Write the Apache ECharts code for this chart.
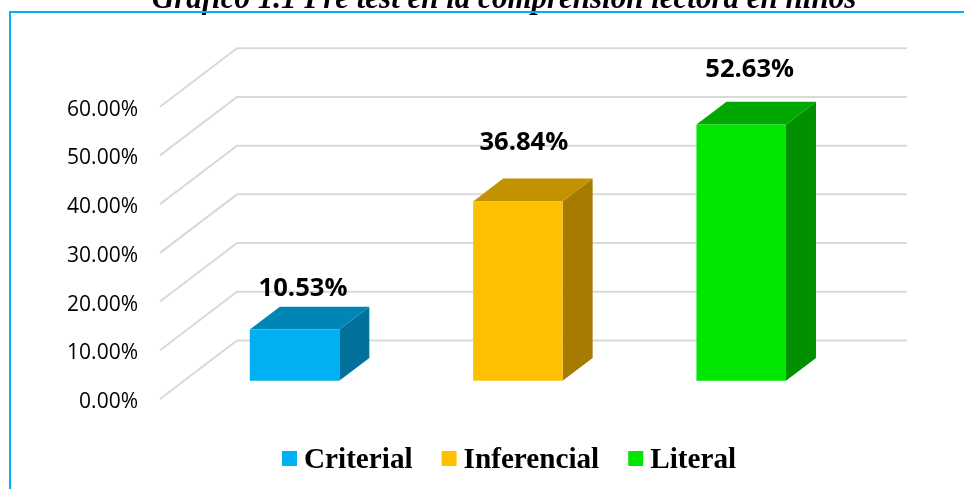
<!DOCTYPE html>
<html>
<head>
<meta charset="utf-8">
<style>
  html, body { margin: 0; padding: 0; background: #fff; overflow: hidden; }
  #chart { width: 964px; height: 489px; }
</style>
<script src="https://cdn.jsdelivr.net/npm/echarts@6/dist/echarts.min.js"></script>
</head>
<body>
<div id="chart"></div>
<script>
const titleText = 'Gráfico 1.1 Pre test en la comprensión lectora en niños'
const categories = ['Criterial', 'Inferencial', 'Literal']
const values = [10.53, 36.84, 52.63]
const colors = ['#00b0f0', '#ffc000', '#00e600']
const topColors = ['#0086b6', '#c29200', '#00a800']
const sideColors = ['#00729c', '#a67c00', '#009000']
const yTicks = [0, 10, 20, 30, 40, 50, 60]

// floor depth of the fake 3d box, in px
const depthX = 77
const depthY = 58.5
// bars take the middle of the floor depth
const barNear = 0.31
const barFar = 0.70
const barWidth = 89.5
const barShift = -1
// labels in the picture are not centred on the bars
const labelNudge = [[8.5, -41], [6, -58.5], [8.5, -54.5]]

const renderWall = (params, api) => {
  const rect = params.coordSys
  const y = api.coord([0, api.value(0)])[1]
  const x0 = rect.x
  const x1 = rect.x + depthX
  const x2 = rect.x + rect.width + depthX
  return {
    type: 'polyline',
    shape: { points: [[x0, y], [x1, y - depthY], [x2, y - depthY]] },
    style: { fill: 'none', stroke: '#d9d9d9', lineWidth: 2 },
    silent: true
  }
}

const renderBar = (index) => (params, api) => {
  const center = api.coord([index, 0])[0]
  const base = api.coord([index, 0])[1]
  const top = api.coord([index, api.value(0)])[1]
  const nearX = depthX * barNear
  const nearY = depthY * barNear
  const dx = depthX * (barFar - barNear)
  const dy = depthY * (barFar - barNear)
  const l = center + nearX - barWidth / 2 + barShift
  const r = l + barWidth
  const b = base - nearY
  const t = top - nearY
  return {
    type: 'group',
    children: [
      { type: 'polygon', shape: { points: [[r, b], [r + dx, b - dy], [r + dx, t - dy], [r, t]] }, style: { fill: sideColors[index] } },
      { type: 'polygon', shape: { points: [[l, t], [r, t], [r + dx, t - dy], [l + dx, t - dy]] }, style: { fill: topColors[index] } },
      { type: 'rect', shape: { x: l, y: t, width: barWidth, height: b - t }, style: { fill: colors[index] } },
      {
        type: 'text',
        x: (l + r) / 2 + labelNudge[index][0],
        y: t + labelNudge[index][1],
        style: {
          text: values[index].toFixed(2) + '%',
          font: 'bold 25.6px "Open Sans", sans-serif',
          fill: '#000',
          align: 'center',
          verticalAlign: 'middle'
        }
      }
    ]
  }
}

const chart = echarts.init(document.getElementById('chart'), null, { renderer: 'canvas' })

chart.setOption({
  animation: false,
  backgroundColor: '#fff',
  title: {
    text: titleText,
    left: 499,
    top: -21,
    textAlign: 'center',
    textStyle: { fontFamily: 'Liberation Serif', fontStyle: 'italic', fontWeight: 'bold', fontSize: 31, color: '#000' }
  },
  legend: {
    left: 282,
    top: 446,
    padding: 0,
    itemWidth: 15,
    itemHeight: 15,
    itemGap: 29,
    icon: 'rect',
    data: categories,
    formatter: '{t|{name}}',
    textStyle: {
      rich: {
        t: { fontFamily: 'Liberation Serif', fontWeight: 'bold', fontSize: 29.2, color: '#000', padding: [4, 0, 0, 2] }
      }
    }
  },
  grid: { left: 160, top: 106.7, width: 670, height: 292.3 },
  xAxis: {
    type: 'category',
    data: categories,
    axisLine: { show: false },
    axisTick: { show: false },
    axisLabel: { show: false }
  },
  yAxis: {
    type: 'value',
    min: 0,
    max: 60,
    interval: 10,
    axisLine: { show: false },
    axisTick: { show: false },
    splitLine: { show: false },
    axisLabel: {
      margin: 22,
      formatter: (v) => '{v|' + v.toFixed(2) + '%}',
      rich: {
        v: { fontFamily: 'Open Sans', fontSize: 21, color: '#000', padding: [6, 0, 0, 0] }
      }
    }
  },
  series: [
    {
      type: 'custom',
      name: 'wall',
      silent: true,
      z: 1,
      data: yTicks,
      encode: { y: 0 },
      renderItem: renderWall
    },
    ...categories.map((name, i) => ({
      type: 'custom',
      name,
      z: 2,
      itemStyle: { color: colors[i] },
      data: [values[i]],
      encode: { y: 0 },
      renderItem: renderBar(i)
    }))
  ],
  graphic: [
    {
      type: 'polyline',
      shape: { points: [[10, 489], [10, 12], [964, 12]] },
      style: { fill: 'none', stroke: '#00b0f0', lineWidth: 2 },
      z: 10,
      silent: true
    }
  ]
})
</script>
</body>
</html>
